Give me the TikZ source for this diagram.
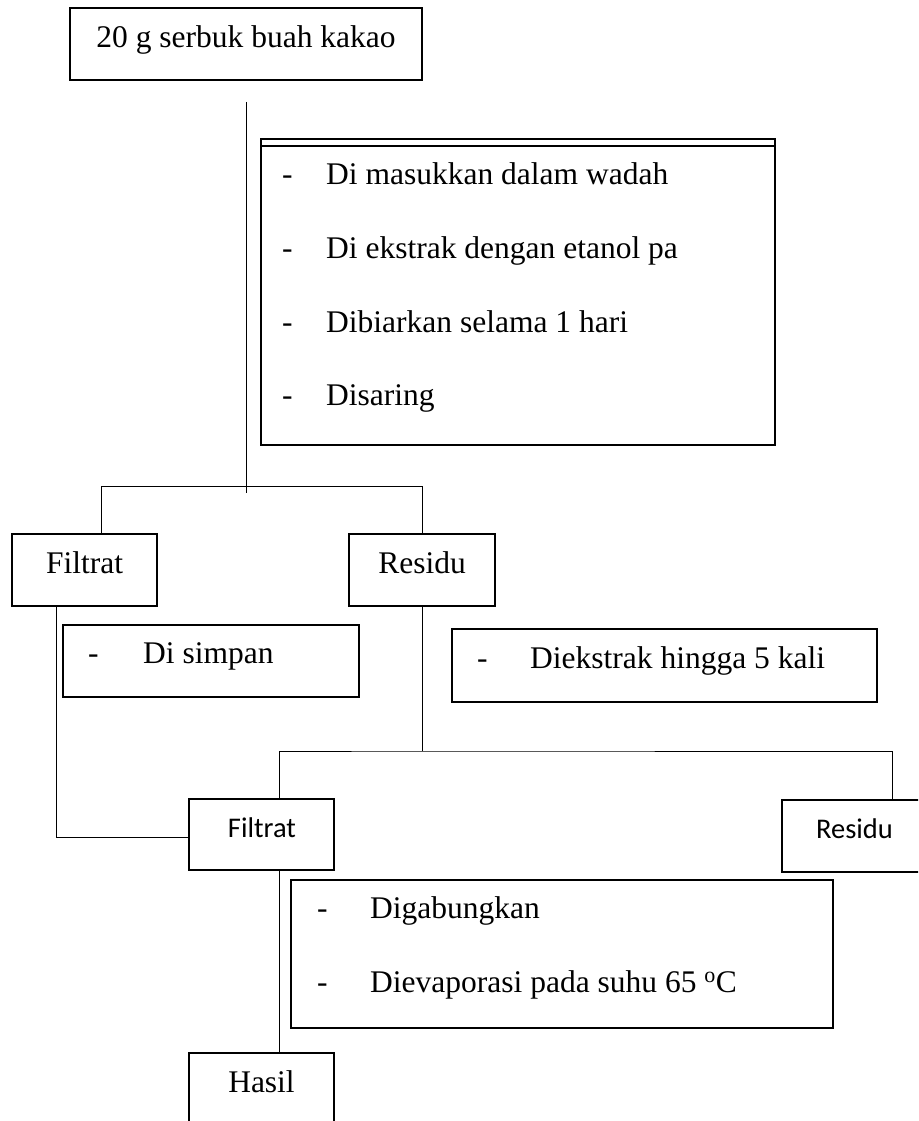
\documentclass[tikz,border=0pt]{standalone}
\usepackage{fontspec}
\setmainfont{Liberation Serif}
\newfontfamily\sansfam{Carlito}
\begin{document}
\begin{tikzpicture}[x=1pt,y=-1pt,
  box/.style={draw, line width=1.2pt, anchor=north west, inner sep=0pt, outer sep=0pt},
  conn/.style={line width=1pt},
  ltxt/.style={anchor=base west, inner sep=0pt, font=\fontsize{31.5}{37}\selectfont},
  ctxt/.style={anchor=base, inner sep=0pt, font=\fontsize{31.5}{37}\selectfont},
  sanstxt/.style={anchor=base, inner sep=0pt, font=\sansfam\fontsize{28.5}{34}\selectfont}]
\useasboundingbox (0,0) rectangle (918,1121);
\clip (0,0) rectangle (918,1121);

% top box
\node[box, minimum width=352pt, minimum height=72pt] (top) at (70,8) {};
\node[ctxt] (toptxt) at (246,48) {20 g serbuk buah kakao};

% process box
\node[box, minimum width=514pt, minimum height=306pt] (proc) at (261,139) {};
\draw[line width=1.2pt] ([yshift=-7pt]proc.north west) -- ([yshift=-7pt]proc.north east);
\node[ltxt] (d1) at (282,184) {-};
\node[ltxt] (p1) at (326,184) {Di masukkan dalam wadah};
\node[ltxt] (d2) at (282,258) {-};
\node[ltxt] (p2) at (326,258) {Di ekstrak dengan etanol pa};
\node[ltxt] (d3) at (282,332) {-};
\node[ltxt] (p3) at (326,332) {Dibiarkan selama 1 hari};
\node[ltxt] (d4) at (282,405) {-};
\node[ltxt] (p4) at (326,405) {Disaring};

% first split
\node[box, minimum width=145pt, minimum height=72pt] (filt1) at (12,534) {};
\node[ctxt] (filt1t) at (84.5,573) {Filtrat};
\node[box, minimum width=146pt, minimum height=72pt] (res1) at (349,534) {};
\node[ctxt] (res1t) at (422,573) {Residu};

% note boxes
\node[box, minimum width=296pt, minimum height=72pt] (simp) at (63,625) {};
\node[ltxt] (sd) at (88,663) {-};
\node[ltxt] (st) at (143,663) {Di simpan};
\node[box, minimum width=425pt, minimum height=73pt] (ekst) at (452,629) {};
\node[ltxt] (ed) at (477,668) {-};
\node[ltxt] (et) at (530,668) {Diekstrak hingga 5 kali};

% second split
\node[box, minimum width=145pt, minimum height=71pt] (filt2) at (189,799) {};
\node[sanstxt] (filt2t) at (262,837) {Filtrat};
\node[box, minimum width=145pt, minimum height=72pt] (res2) at (782,800) {};
\node[sanstxt] (res2t) at (854.5,838) {Residu};

% final process box
\node[box, minimum width=542pt, minimum height=148pt] (gab) at (291,880) {};
\node[ltxt] (gd1) at (317,918) {-};
\node[ltxt] (gt1) at (370,918) {Digabungkan};
\node[ltxt] (gd2) at (317,992) {-};
\node[ltxt] (gt2) at (370,992) {Dievaporasi pada suhu 65 \textsuperscript{o}C};

% result
\node[box, minimum width=145pt, minimum height=100pt] (hasil) at (189,1053) {};
\node[ctxt] (hasilt) at (261.5,1092) {Hasil};

% connectors
\coordinate (v1a) at (246,102);
\coordinate (v1b) at (246,493);
\draw[conn] (v1a) -- (v1b);
\draw[conn] ([xshift=89pt]filt1.north west) |- ([yshift=48pt]res1.north) -- (res1.north);
\draw[conn] ([xshift=44pt]filt1.south west) |- ([yshift=-2.5pt]filt2.west);
\coordinate (h2) at ([yshift=-145pt]res1.south);
\draw[conn] (res1.south) -- (h2);
\draw[conn] ([xshift=90pt]filt2.north west) |- (h2) -| ([xshift=110pt]res2.north west);
\draw[conn] ([xshift=90pt]filt2.south west) -- ([xshift=90pt]hasil.north west);
\end{tikzpicture}
\end{document}
